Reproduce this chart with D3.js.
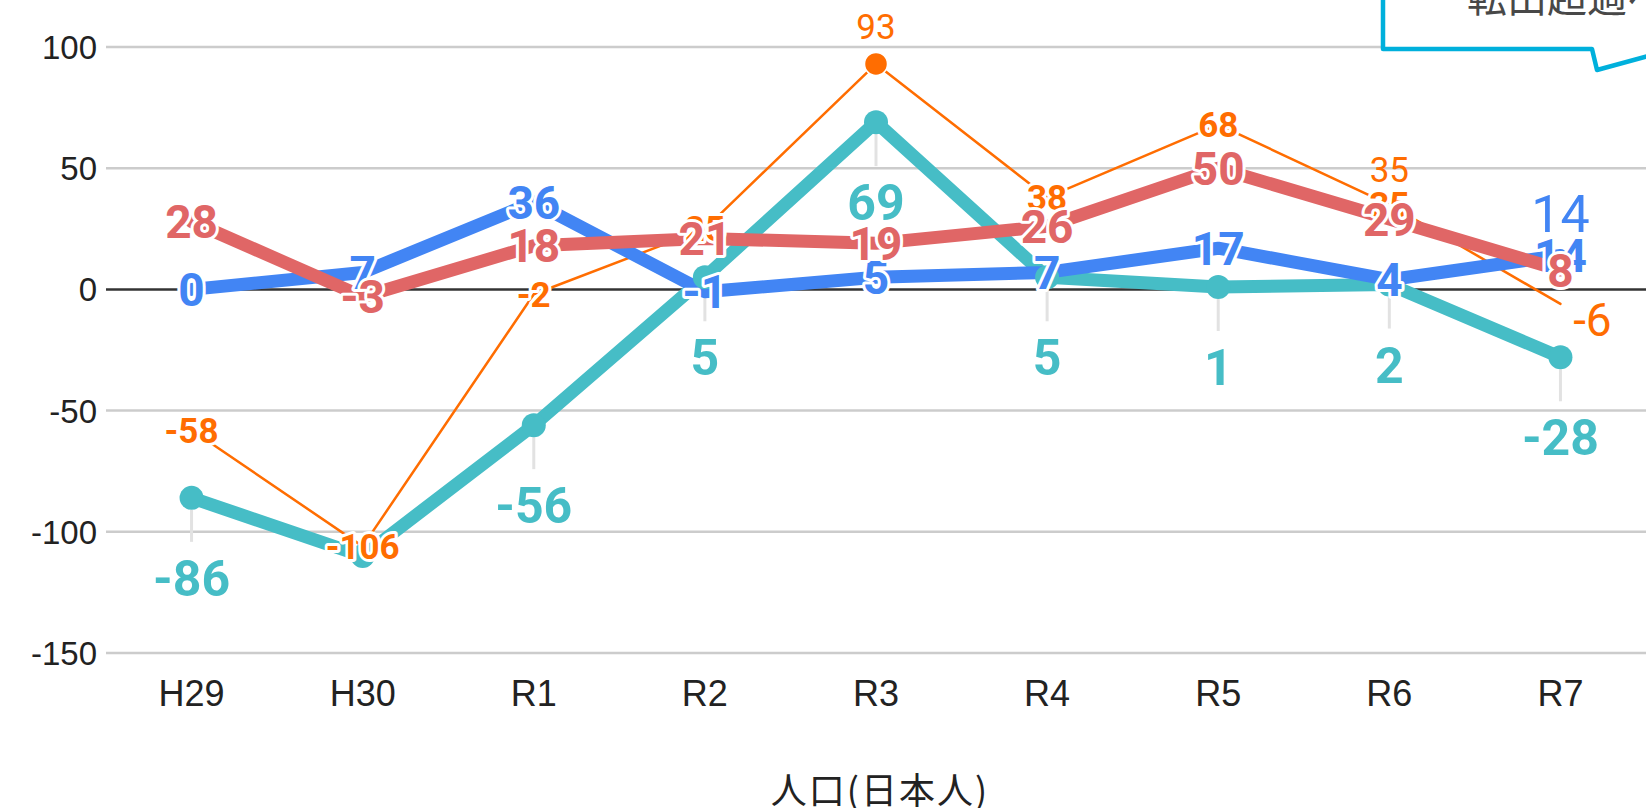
<!DOCTYPE html>
<html>
<head>
<meta charset="utf-8">
<script src="https://cdn.jsdelivr.net/npm/d3@7"></script>
<style>
  html, body { margin: 0; padding: 0; background: #fff; overflow: hidden; }
  svg { display: block; }
  .tick text { font-family: "Liberation Sans", Arial, sans-serif; fill: #222; }
</style>
</head>
<body>
<svg id="chart" width="1646" height="808"></svg>
<script>
// Data
const years = ['H29', 'H30', 'R1', 'R2', 'R3', 'R4', 'R5', 'R6', 'R7']
const blueVals = [0, 7, 36, -1, 5, 7, 17, 4, 14]
const redVals = [28, -3, 18, 21, 19, 26, 50, 29, 8]
const tealVals = [-86, -110, -56, 5, 69, 5, 1, 2, -28]
const orangeVals = [-58, -106, -2, 25, 93, 38, 68, 35, -6]
const yTicks = [100, 50, 0, -50, -100, -150]
const axisTitle = '人口(日本人)'
const calloutText = '転出超過へ'

const colors = { blue: '#4285f4', red: '#e06666', teal: '#46bdc6', orange: '#ff6d01' }

const width = 1646, height = 808
const svg = d3.select('#chart')

// Scales
const x = d3.scaleBand().domain(years).range([106, 1646])
const cx = d => x(d) + x.bandwidth() / 2
const y = d3.scaleLinear().domain([-150, 100]).range([653, 47])

// Gridlines
svg.append('g').selectAll('line')
    .data(yTicks)
    .enter()
    .append('line')
    .attr('x1', 106).attr('x2', width)
    .attr('y1', d => y(d)).attr('y2', d => y(d))
    .style('stroke', d => d === 0 ? '#333' : '#ccc')
    .style('stroke-width', 2.5)

// Axes
const yAxis = d3.axisLeft(y)
    .tickValues(yTicks)
    .tickFormat(d => String(d))
    .tickSize(0)
    .tickPadding(0)
svg.append('g')
    .attr('transform', 'translate(97,0)')
    .call(yAxis)
    .call(g => g.select('.domain').remove())
    .selectAll('text')
    .style('font-size', '33px')
    .attr('dy', '0.35em')

const xAxis = d3.axisBottom(x).tickSize(0).tickPadding(0)
svg.append('g')
    .attr('transform', 'translate(0,693)')
    .call(xAxis)
    .call(g => g.select('.domain').remove())
    .selectAll('text')
    .style('font-size', '36px')
    .attr('y', 0)
    .attr('dy', '0.35em')

svg.append('text')
    .attr('x', 880).attr('y', 791)
    .attr('text-anchor', 'middle')
    .attr('dy', '0.35em')
    .style('font-family', '"Noto Sans CJK JP", sans-serif')
    .style('font-size', '36px')
    .style('letter-spacing', '2px')
    .style('fill', '#222')
    .text(axisTitle)

// Teal leader lines (skip H30, its label is not shown)
svg.append('g').selectAll('line')
    .data(tealVals.map((v, i) => ({ k: years[i], v })).filter((d, i) => i !== 1))
    .enter()
    .append('line')
    .attr('x1', d => cx(d.k)).attr('x2', d => cx(d.k))
    .attr('y1', d => y(d.v) + 12).attr('y2', d => y(d.v) + 44)
    .style('stroke', '#e2e2e2')
    .style('stroke-width', 3)

// Lines
const line = d3.line()
    .x((_, i) => cx(years[i]))
    .y(d => y(d))

function drawLine(vals, color, w){
    svg.append('path')
        .datum(vals)
        .attr('d', line)
        .style('fill', 'none')
        .style('stroke', color)
        .style('stroke-width', w)
        .style('stroke-linejoin', 'round')
        .style('stroke-linecap', 'round')
}

drawLine(orangeVals, colors.orange, 2.5)
drawLine(tealVals, colors.teal, 13)
drawLine(blueVals, colors.blue, 13)
drawLine(redVals, colors.red, 13)

// Markers
svg.append('g').selectAll('circle')
    .data(tealVals)
    .enter()
    .append('circle')
    .attr('cx', (_, i) => cx(years[i]))
    .attr('cy', d => y(d))
    .attr('r', 12)
    .style('fill', colors.teal)

// only the peak marker of the orange series is left uncovered
svg.append('circle')
    .attr('cx', cx('R3')).attr('cy', y(orangeVals[4]))
    .attr('r', 11.5)
    .style('fill', colors.orange)
    .style('stroke', '#fff')
    .style('stroke-width', 1.5)

// Labels
function addLabel(px, py, txt, color, size, weight, halo){
    svg.append('text')
        .attr('x', px).attr('y', py)
        .attr('text-anchor', 'middle')
        .attr('dy', '0.36em')
        .style('font-family', 'Roboto, "Noto Sans", sans-serif')
        .style('font-size', size + 'px')
        .style('font-weight', weight)
        .style('fill', color)
        .style('stroke', halo ? '#fff' : 'none')
        .style('stroke-width', halo ? 6 : 0)
        .style('stroke-linejoin', 'round')
        .style('paint-order', 'stroke')
        .text(txt)
}

// teal: under the point
tealVals.forEach((v, i) => {
    if (i === 1) return
    addLabel(cx(years[i]), y(v) + 80, v, colors.teal, 50, 700, false)
})

// orange: centred bold, except the peak and the last point
orangeVals.forEach((v, i) => {
    if (i === 4 || i === 8) return
    addLabel(cx(years[i]), y(v), v, colors.orange, 35, 700, true)
})
addLabel(cx('R3'), y(orangeVals[4]) - 38, orangeVals[4], colors.orange, 35, 400, false)
addLabel(cx('R6'), y(orangeVals[7]) - 35, orangeVals[7], colors.orange, 35, 400, false)
addLabel(cx('R7') + 32, y(orangeVals[8]) + 15, orangeVals[8], colors.orange, 46, 400, false)

// blue
blueVals.forEach((v, i) => {
    addLabel(cx(years[i]), y(v), v, colors.blue, 46, 700, true)
})
addLabel(cx('R7'), y(blueVals[8]) - 42, blueVals[8], colors.blue, 52, 400, false)

// red
redVals.forEach((v, i) => {
    addLabel(cx(years[i]), y(v), v, colors.red, 46, 700, true)
})

// Callout box (clipped at the top right)
svg.append('path')
    .attr('d', 'M1383,-10 L1383,49 L1592,49 L1597,70 L1652,55 L1652,-10 Z')
    .style('fill', '#fff')
    .style('stroke', '#00b0dc')
    .style('stroke-width', 4.5)
    .style('stroke-linejoin', 'round')

svg.append('text')
    .attr('x', 1467).attr('y', 12)
    .style('font-family', '"Noto Sans CJK JP", sans-serif')
    .style('font-size', '40px')
    .style('fill', '#484848')
    .text(calloutText)
</script>
</body>
</html>
